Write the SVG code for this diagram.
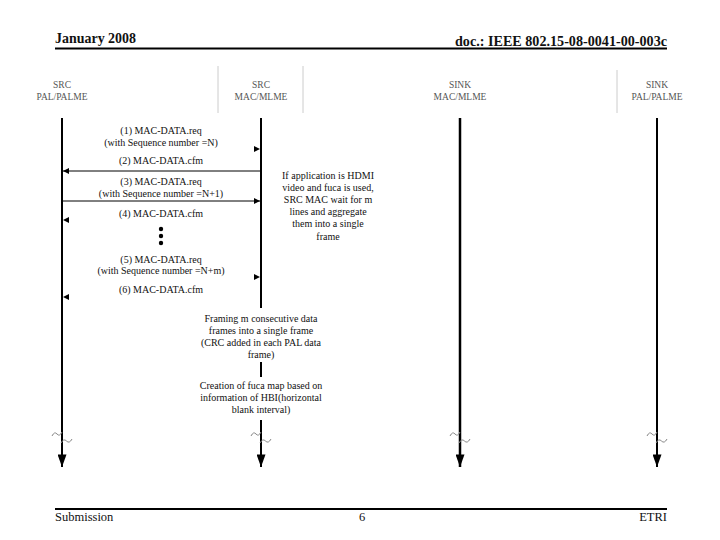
<svg xmlns="http://www.w3.org/2000/svg" width="720" height="540" viewBox="0 0 720 540">
<style>
text{font-family:"Liberation Serif","Times New Roman",serif;fill:#111}
.hdr{font-weight:bold;font-size:15px}
.ftr{font-size:12.5px}
.lbl{font-size:9.5px;fill:#555;text-anchor:middle}
.msg{font-size:10px;text-anchor:middle}
.life{stroke:#000;stroke-width:2;fill:none}
.msgl{stroke:#000;stroke-width:1;fill:none}
.ghost{stroke:none;fill:none}
.sep{stroke:#ccc;stroke-width:1}
.brk{stroke:#888;stroke-width:1;fill:none}
.rule{stroke:#000;stroke-width:2}
</style>
<defs>
<marker id="ah" viewBox="0 0 10 10" refX="10" refY="5" markerWidth="9" markerHeight="6" markerUnits="userSpaceOnUse" orient="auto"><path d="M0,0 L10,5 L0,10 z" fill="#000"/></marker>
<marker id="big" viewBox="0 0 14 10" refX="14" refY="5" markerWidth="14" markerHeight="9" markerUnits="userSpaceOnUse" orient="auto"><path d="M0,0 L14,5 L0,10 z" fill="#000"/></marker>
<path id="brk" class="brk" d="M-10,-3 q2.5,-5 5,-2 t5,-2 M-1,4 q2.7,-5 5.5,-2 t5.5,-2"/>
</defs>

<g id="header">
<text class="hdr" x="55" y="43" textLength="81" lengthAdjust="spacingAndGlyphs">January 2008</text>
<text class="hdr" x="667" y="46" text-anchor="end" textLength="212" lengthAdjust="spacingAndGlyphs">doc.: IEEE 802.15-08-0041-00-003c</text>
<line class="rule" x1="55" y1="48.5" x2="667" y2="48.5"/>
</g>

<g id="footer">
<line class="rule" x1="55" y1="509" x2="667" y2="509"/>
<text class="ftr" x="55" y="521">Submission</text>
<text class="ftr" x="362" y="521" text-anchor="middle">6</text>
<text class="ftr" x="667" y="521" text-anchor="end">ETRI</text>
</g>

<g id="separators">
<line class="sep" x1="218" y1="66" x2="218" y2="113"/>
<line class="sep" x1="303" y1="66" x2="303" y2="113"/>
<line class="sep" x1="617" y1="70" x2="617" y2="113"/>
</g>

<g id="src-pal">
<text class="lbl" x="62" y="88">SRC</text>
<text class="lbl" x="62" y="100">PAL/PALME</text>
<line class="life" x1="62" y1="118" x2="62" y2="467" marker-end="url(#big)"/>
<use href="#brk" x="62" y="439"/>
</g>

<g id="src-mac">
<text class="lbl" x="261" y="88">SRC</text>
<text class="lbl" x="261" y="100">MAC/MLME</text>
<line class="life" x1="261" y1="118" x2="261" y2="308"/>
<line class="life" x1="261" y1="362" x2="261" y2="377"/>
<line class="life" x1="261" y1="420" x2="261" y2="467" marker-end="url(#big)"/>
<use href="#brk" x="261" y="439"/>
</g>

<g id="sink-mac">
<text class="lbl" x="460" y="88">SINK</text>
<text class="lbl" x="460" y="100">MAC/MLME</text>
<line class="life" x1="460" y1="118" x2="460" y2="467" marker-end="url(#big)" style="stroke-width:2.5"/>
<use href="#brk" x="460" y="439"/>
</g>

<g id="sink-pal">
<text class="lbl" x="657" y="88">SINK</text>
<text class="lbl" x="657" y="100">PAL/PALME</text>
<line class="life" x1="657" y1="118" x2="657" y2="467" marker-end="url(#big)"/>
<use href="#brk" x="657" y="439"/>
</g>

<g id="connectors">
<line class="ghost" x1="62" y1="149" x2="260" y2="149" marker-end="url(#ah)"/>
<line class="msgl" x1="261" y1="171" x2="63" y2="171" marker-end="url(#ah)"/>
<line class="msgl" x1="62" y1="201" x2="260" y2="201" marker-end="url(#ah)"/>
<line class="ghost" x1="261" y1="220" x2="63" y2="220" marker-end="url(#ah)"/>
<line class="ghost" x1="62" y1="277" x2="260" y2="277" marker-end="url(#ah)"/>
<line class="ghost" x1="261" y1="297" x2="63" y2="297" marker-end="url(#ah)"/>
</g>

<g id="messages">
<text class="msg" x="161" y="133.5">(1) MAC-DATA.req</text>
<text class="msg" x="161" y="145.5">(with Sequence number =N)</text>
<text class="msg" x="161" y="163.5">(2) MAC-DATA.cfm</text>
<text class="msg" x="161" y="184.5">(3) MAC-DATA.req</text>
<text class="msg" x="161" y="196.5">(with Sequence number =N+1)</text>
<text class="msg" x="161" y="216.5">(4) MAC-DATA.cfm</text>
<text class="msg" x="161" y="262.5">(5) MAC-DATA.req</text>
<text class="msg" x="161" y="273.5">(with Sequence number =N+m)</text>
<text class="msg" x="161" y="292.5">(6) MAC-DATA.cfm</text>
</g>

<g id="dots">
<circle cx="161" cy="229" r="2.2" fill="#000"/>
<circle cx="161" cy="236" r="2.2" fill="#000"/>
<circle cx="161" cy="243" r="2.2" fill="#000"/>
</g>

<g id="note-hdmi">
<text class="msg" x="328" y="178.5">If application is HDMI</text>
<text class="msg" x="328" y="190.5">video and fuca is used,</text>
<text class="msg" x="328" y="202.5">SRC MAC wait for m</text>
<text class="msg" x="328" y="215">lines and aggregate</text>
<text class="msg" x="328" y="227">them into a single</text>
<text class="msg" x="328" y="240">frame</text>
</g>

<g id="note-framing">
<text class="msg" x="261" y="321.5">Framing m consecutive data</text>
<text class="msg" x="261" y="334">frames into a single frame</text>
<text class="msg" x="261" y="346">(CRC added in each PAL data</text>
<text class="msg" x="261" y="358">frame)</text>
</g>

<g id="note-fuca">
<text class="msg" x="261" y="388.5">Creation of fuca map based on</text>
<text class="msg" x="261" y="401">information of HBI(horizontal</text>
<text class="msg" x="261" y="413">blank interval)</text>
</g>
</svg>
